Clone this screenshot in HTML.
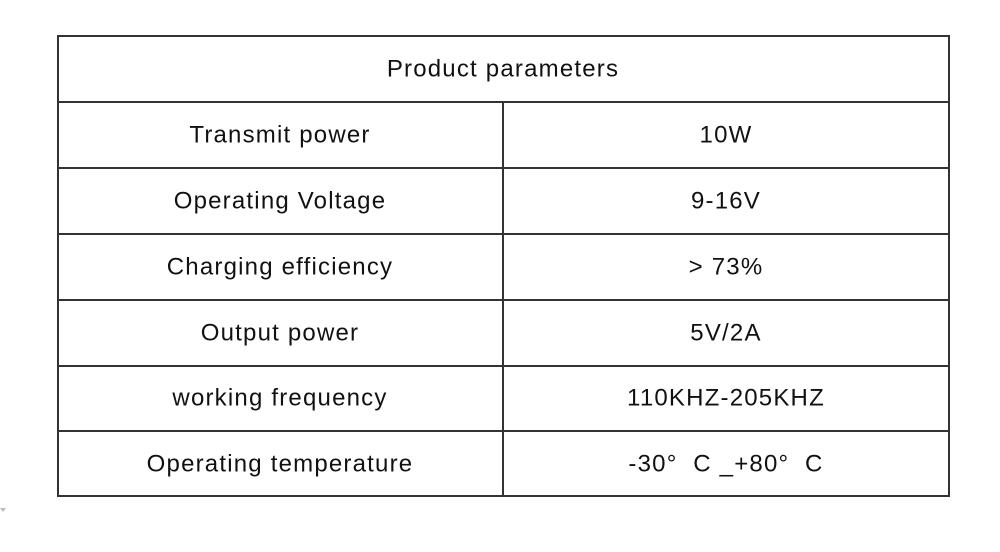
<!DOCTYPE html>
<html><head><meta charset="utf-8"><style>
html,body{margin:0;padding:0;background:#fff;width:1000px;height:552px;overflow:hidden}
svg text{font-family:"Liberation Sans",sans-serif;font-size:24px;letter-spacing:1.2px;fill:#111;text-anchor:middle;dominant-baseline:central}
</style></head><body>
<svg width="1000" height="552" xmlns="http://www.w3.org/2000/svg">
<g stroke="#333" stroke-width="2" fill="none">
<rect x="58" y="36" width="891" height="460"/>
<line x1="58" y1="102" x2="949" y2="102"/>
<line x1="58" y1="168" x2="949" y2="168"/>
<line x1="58" y1="234" x2="949" y2="234"/>
<line x1="58" y1="300" x2="949" y2="300"/>
<line x1="58" y1="366" x2="949" y2="366"/>
<line x1="58" y1="431" x2="949" y2="431"/>
<line x1="503" y1="102" x2="503" y2="496"/>
</g>
<text x="503" y="69">Product parameters</text>
<text x="280" y="135">Transmit power</text><text x="726" y="135">10W</text>
<text x="280" y="201">Operating Voltage</text><text x="726" y="201">9-16V</text>
<text x="280" y="267">Charging efficiency</text><text x="726" y="267">&gt; 73%</text>
<text x="280" y="333">Output power</text><text x="726" y="333">5V/2A</text>
<text x="280" y="398">working frequency</text><text x="726" y="398">110KHZ-205KHZ</text>
<text x="280" y="464">Operating temperature</text><text x="726" y="464" xml:space="preserve">-30°  C _+80°  C</text>
<polygon points="0,508 6,508 3,512" fill="#bbb"/>
</svg>
</body></html>
